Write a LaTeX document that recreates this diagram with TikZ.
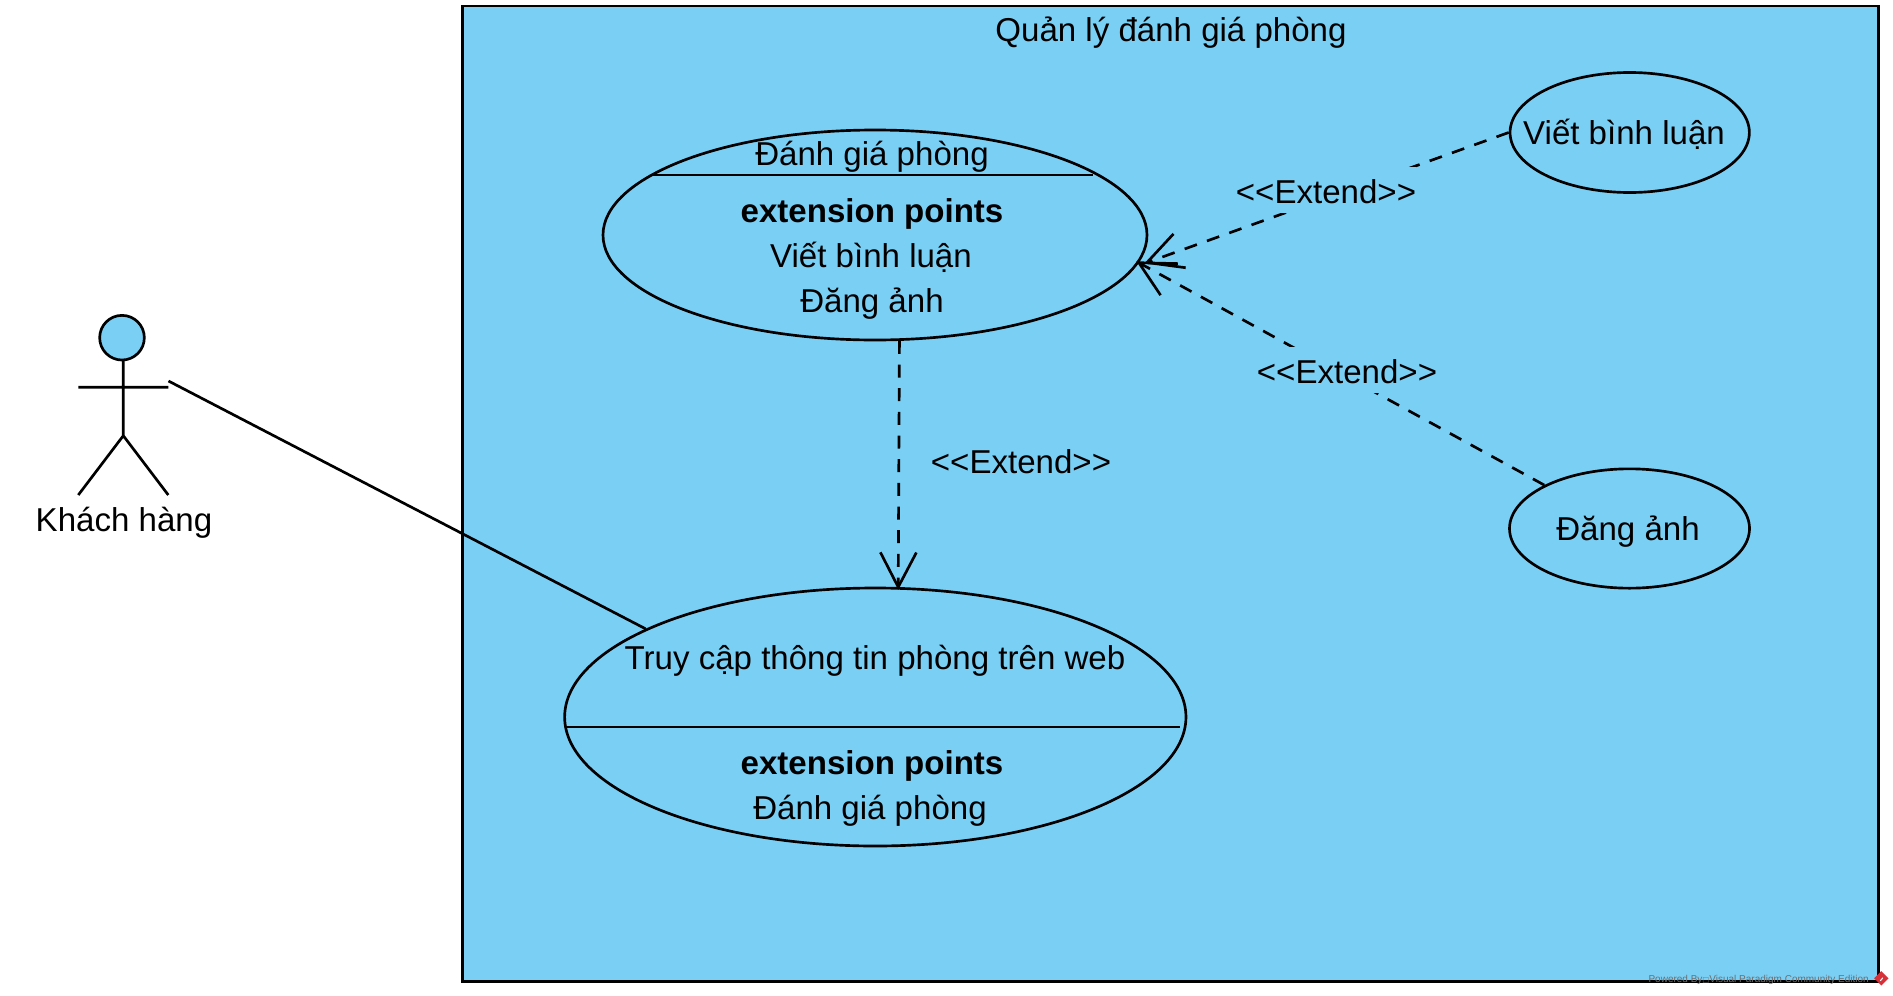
\documentclass[tikz,border=0pt]{standalone}
\usepackage{fontspec}
\setmainfont{Liberation Sans}
\newfontfamily\symfont{DejaVu Sans}
\usetikzlibrary{shapes.geometric,arrows.meta}
\definecolor{ucblue}{RGB}{122,207,245}
\definecolor{wmgrey}{RGB}{110,110,110}
\definecolor{wmred}{RGB}{214,48,56}
\tikzset{
  x=0.75pt,y=-0.75pt,
  every node/.style={font=\fontsize{24.8pt}{29pt}\selectfont,text=black},
  txt/.style={anchor=base,inner sep=0pt},
  usecase/.style={ellipse,draw=black,fill=ucblue,line width=2pt,inner sep=0pt},
  sysbox/.style={draw=black,fill=ucblue,line width=2.2pt},
  thin divider/.style={draw=black,line width=1.5pt},
  stick/.style={draw=black,line width=2pt},
  assoc/.style={draw=black,line width=2pt},
  extendline/.style={draw=black,line width=2pt,dash pattern=on 9.75pt off 8pt,shorten >=-2.2pt,
    -{Straight Barb[length=26pt,width=27pt,line width=2pt]}},
  lbl/.style={anchor=base,inner sep=0pt,fill=ucblue,text height=27.4pt,text depth=7.2pt},
  plainlbl/.style={anchor=base,inner sep=0pt}
}
\begin{document}
\begin{tikzpicture}
\useasboundingbox (0,0) rectangle (1893,996);
% system boundary
\path[sysbox] (462.5,6) rectangle (1878.5,981.5);
\node[txt] (title) at (1171,41.5) {Quản lý đánh giá phòng};
% use cases
\node[usecase,minimum width=408pt,minimum height=157.5pt] (danh) at (875,235) {};
\node[usecase,minimum width=466pt,minimum height=193.5pt] (truy) at (875.3,717) {};
\node[usecase,minimum width=179.5pt,minimum height=90pt] (viet) at (1629.7,132.5) {};
\node[usecase,minimum width=180pt,minimum height=89.5pt] (dang) at (1629.5,528.5) {};
\draw[thin divider] (651,175) -- (1093,175);
\draw[thin divider] (566.6,727) -- (1180,727);
\node[txt] (d1) at (872,165.5) {Đánh giá phòng};
\node[txt] (d2) at (872,222) {\bfseries extension points};
\node[txt] (d3) at (871,267.5) {Viết bình luận};
\node[txt] (d4) at (872,312.5) {Đăng ảnh};
\node[txt] (t1) at (875,669.5) {Truy cập thông tin phòng trên web};
\node[txt] (t2) at (872,774) {\bfseries extension points};
\node[txt] (t3) at (870,819) {Đánh giá phòng};
\node[txt] (v1) at (1624,144.5) {Viết bình luận};
\node[txt] (g1) at (1628,540.5) {Đăng ảnh};
% actor
\node[circle,draw=black,fill=ucblue,line width=2pt,inner sep=0pt,minimum size=33.5pt] (head) at (122,337.7) {};
\coordinate (neck) at (123.3,360.7);
\coordinate (hip) at (123.3,435.7);
\coordinate (armL) at (78.3,387.3);
\coordinate (armR) at (168.3,387.3);
\coordinate (footL) at (78.3,495);
\coordinate (footR) at (168.3,495);
\coordinate (hand) at (168.5,381);
\draw[stick] (neck) -- (hip) (armL) -- (armR) (footL) -- (hip) -- (footR);
\node[txt] (actor) at (124,531.5) {Khách hàng};
% connectors
\coordinate (tipA) at (1147,262.5);
\draw[assoc] (hand) -- (truy.159.3);
\draw[extendline] (viet.180) -- (tipA);
\draw[extendline] (dang.153.6) -- (danh.-6.3);
\draw[extendline] (danh.-77.8) -- (truy.80.1);
\node[lbl] (e1) at (1326,203.8) {<{}<Extend>{}>};
\node[lbl] (e2) at (1347,383.8) {<{}<Extend>{}>};
\node[plainlbl] (e3) at (1021,473.5) {<{}<Extend>{}>};
% watermark
\node[anchor=base east,inner sep=0pt,text=wmgrey,font=\fontsize{7.5pt}{9pt}\selectfont] (wm) at (1869,982.7)
  {Powered By{\symfont\fontsize{5.5pt}{9pt}\selectfont □}Visual Paradigm Community Edition};
\node[diamond,fill=wmred,inner sep=0pt,minimum size=11pt] (wmicon) at (1881.3,978.3) {};
\draw[white,line width=0.8pt] (wmicon.center) ++(-1,2.5) -- ++(2.5,-3);
\end{tikzpicture}
\end{document}
